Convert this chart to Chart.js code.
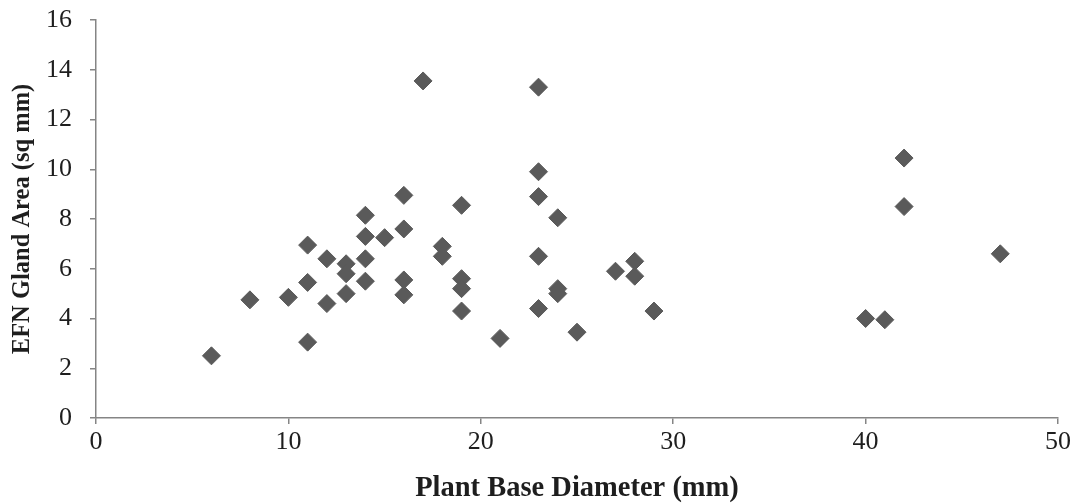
<!DOCTYPE html>
<html>
<head>
<meta charset="utf-8">
<script src="https://cdn.jsdelivr.net/npm/chart.js@4.4.1/dist/chart.umd.min.js"></script>
<style>
  html, body { margin: 0; padding: 0; background: #ffffff; }
  #wrap { width: 1074px; height: 503px; }
</style>
</head>
<body>
<div id="wrap"><canvas id="c" width="1074" height="503"></canvas></div>
<script>
// Plant base diameter (mm)
const diameterMm = [6, 8, 10, 11, 11, 11, 12, 12, 13, 13, 13, 14, 14, 14, 14, 15, 16, 16, 16, 16,
                    17, 18, 18, 19, 19, 19, 19, 21, 23, 23, 23, 23, 23, 24, 24, 24, 25, 27, 28, 28,
                    29, 40, 41, 42, 42, 47];
// EFN gland area (sq mm)
const glandArea = [2.5, 4.75, 4.85, 3.05, 5.45, 6.95, 4.6, 6.4, 6.2, 5.8, 5.0, 8.15, 7.3, 6.4, 5.5, 7.25, 8.95, 7.6, 5.55, 4.95,
                   13.55, 6.9, 6.5, 8.55, 5.6, 5.2, 4.3, 3.2, 13.3, 9.9, 8.9, 6.5, 4.4, 8.05, 5.2, 5.0, 3.45, 5.9, 6.3, 5.7,
                   4.3, 4.0, 3.95, 10.45, 8.5, 6.6];
const xTicks = [0, 10, 20, 30, 40, 50];
const yTicks = [0, 2, 4, 6, 8, 10, 12, 14, 16];
const xTitle = 'Plant Base Diameter (mm)';
const yTitle = 'EFN Gland Area (sq mm)';

const points = diameterMm.map((d, i) => ({ x: d, y: glandArea[i] }));
const axisColor = '#858585';

new Chart(document.getElementById('c'), {
  type: 'scatter',
  data: {
    datasets: [{
      data: points,
      pointStyle: 'rectRot',
      pointRadius: 9,
      pointHoverRadius: 9,
      pointBackgroundColor: '#5a5a5a',
      pointBorderColor: '#5a5a5a',
      pointBorderWidth: 1
    }]
  },
  options: {
    responsive: false,
    animation: false,
    events: [],
    layout: { padding: { top: 20, right: 15, bottom: 0, left: 0 } },
    plugins: { legend: { display: false }, tooltip: { enabled: false } },
    scales: {
      x: {
        type: 'linear',
        min: xTicks[0],
        max: xTicks[xTicks.length - 1],
        afterBuildTicks: s => { s.ticks = xTicks.map(v => ({ value: v })); },
        afterFit: s => { s.height = 85; },
        grid: { display: true, drawOnChartArea: false, drawTicks: true, tickLength: 6, color: axisColor, lineWidth: 1.5 },
        border: { display: true, color: axisColor, width: 1.5 },
        ticks: { padding: 3, color: '#1e1e1e', font: { family: 'Liberation Serif', size: 26 } },
        title: { display: true, text: xTitle, color: '#1e1e1e', padding: { top: 0, bottom: 0 },
                 font: { family: 'Liberation Serif', size: 28.5, weight: 'bold', lineHeight: 1 } }
      },
      y: {
        type: 'linear',
        min: yTicks[0],
        max: yTicks[yTicks.length - 1],
        afterBuildTicks: s => { s.ticks = yTicks.map(v => ({ value: v })); },
        afterFit: s => { s.width = 96; s.paddingTop = 0; s.paddingBottom = 0; },
        grid: { display: true, drawOnChartArea: false, drawTicks: true, tickLength: 6, color: axisColor, lineWidth: 1.5 },
        border: { display: true, color: axisColor, width: 1.5 },
        ticks: { padding: 18, color: '#1e1e1e', font: { family: 'Liberation Serif', size: 26 } },
        title: { display: true, text: yTitle, color: '#1e1e1e', padding: { top: 10, bottom: 0 },
                 font: { family: 'Liberation Serif', size: 24.5, weight: 'bold', lineHeight: 1 } }
      }
    }
  }
});
</script>
</body>
</html>
